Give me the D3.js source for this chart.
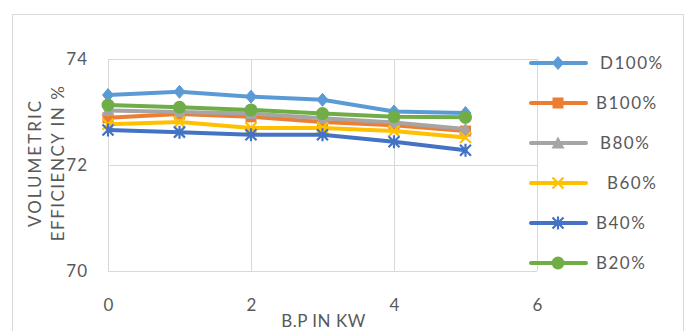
<!DOCTYPE html>
<html>
<head>
<meta charset="utf-8">
<script src="https://cdn.jsdelivr.net/npm/d3@7"></script>
<style>
  html, body { margin: 0; padding: 0; background: #fff; }
  svg { display: block; font-family: Carlito, Lato, "Open Sans", sans-serif; }
</style>
</head>
<body>
<svg id="chart" width="692" height="331"></svg>
<script>
// Brake power (kW) on the x axis
const bp = [0, 1, 2, 3, 4, 5];

// Volumetric efficiency (%) per fuel blend
const seriesNames = ["D100%", "B100%", "B80%", "B60%", "B40%", "B20%"];
const d100 = [73.32, 73.38, 73.29, 73.23, 73.01, 72.98];
const b100 = [72.89, 72.96, 72.91, 72.81, 72.75, 72.64];
const b80  = [73.03, 73.00, 72.97, 72.88, 72.80, 72.68];
const b60  = [72.77, 72.81, 72.70, 72.70, 72.64, 72.52];
const b40  = [72.66, 72.62, 72.57, 72.57, 72.44, 72.28];
const b20  = [73.13, 73.09, 73.04, 72.97, 72.91, 72.90];

const xTicks = [0, 2, 4, 6];
const yTicks = [70, 72, 74];

const colors = ["#5B9BD5", "#ED7D31", "#A5A5A5", "#FFC000", "#4472C4", "#70AD47"];
const markers = ["diamond", "square", "triangle", "cross", "asterisk", "circle"];
const values = [d100, b100, b80, b60, b40, b20];

const FONT = "Lato, 'Open Sans', sans-serif";
const TEXT_COLOR = "#595959";

const svg = d3.select("#chart");

// chart frame
svg.append("rect")
  .attr("x", 12.5).attr("y", 14.5)
  .attr("width", 671).attr("height", 340)
  .attr("fill", "#fff").attr("stroke", "#d9d9d9");

const x = d3.scaleLinear().domain([0, 6]).range([108, 537]);
const y = d3.scaleLinear().domain([70, 74]).range([271, 59]);

// gridlines
const grid = svg.append("g").attr("stroke", "#d9d9d9").attr("stroke-width", 1);
yTicks.forEach(t => {
  grid.append("line")
    .attr("x1", x(0)).attr("x2", x(6))
    .attr("y1", Math.round(y(t)) + 0.5).attr("y2", Math.round(y(t)) + 0.5);
});
xTicks.forEach(t => {
  grid.append("line")
    .attr("x1", Math.round(x(t)) + 0.5).attr("x2", Math.round(x(t)) + 0.5)
    .attr("y1", y(74)).attr("y2", y(70));
});

// axes (labels only, axis lines hidden)
const yAxis = svg.append("g")
  .attr("transform", `translate(${x(0) - 8},0)`)
  .call(d3.axisLeft(y).tickValues(yTicks).tickSize(0).tickPadding(12).tickFormat(d3.format("d")));
yAxis.select(".domain").remove();
yAxis.selectAll("text").attr("fill", TEXT_COLOR)
  .style("font-size", "17px").style("font-family", FONT).style("letter-spacing", "1px")
  .attr("dy", "0.3em");

const xAxis = svg.append("g")
  .attr("transform", `translate(0,${y(70) + 28})`)
  .call(d3.axisBottom(x).tickValues(xTicks).tickSize(0).tickPadding(0).tickFormat(d3.format("d")));
xAxis.select(".domain").remove();
xAxis.selectAll("text").attr("fill", TEXT_COLOR)
  .style("font-size", "17px").style("font-family", FONT);

// axis titles
svg.append("text")
  .attr("x", (x(0) + x(6)) / 2 + 1).attr("y", 327)
  .attr("text-anchor", "middle").attr("fill", TEXT_COLOR)
  .style("font-size", "17px").style("font-family", FONT).style("letter-spacing", "0.5px")
  .text("B.P IN KW");

const yTitle = svg.append("text")
  .attr("transform", `translate(41,${y(72) - 2}) rotate(-90)`)
  .attr("text-anchor", "middle").attr("fill", TEXT_COLOR)
  .style("font-size", "17px").style("font-family", FONT);
yTitle.append("tspan").attr("x", 0).attr("dy", 0)
  .style("letter-spacing", "2px").text("VOLUMETRIC");
yTitle.append("tspan").attr("x", 0).attr("dy", 23)
  .style("letter-spacing", "1.5px").text("EFFICIENCY IN %");

// marker shapes
function drawMarker(g, type, color, cx, cy, s) {
  const h = s / 2;
  switch (type) {
    case "diamond":
      g.append("path").attr("d", `M${cx},${cy - h - 1}L${cx + h},${cy}L${cx},${cy + h + 1}L${cx - h},${cy}Z`)
        .attr("fill", color).attr("stroke", color).attr("stroke-width", 1);
      break;
    case "square":
      g.append("rect").attr("x", cx - h).attr("y", cy - h).attr("width", s).attr("height", s)
        .attr("fill", color);
      break;
    case "triangle":
      g.append("path").attr("d", `M${cx},${cy - h - 1}L${cx + h + 1},${cy + h}L${cx - h - 1},${cy + h}Z`)
        .attr("fill", color);
      break;
    case "cross":
      g.append("path").attr("d", `M${cx - h},${cy - h}L${cx + h},${cy + h}M${cx - h},${cy + h}L${cx + h},${cy - h}`)
        .attr("stroke", color).attr("stroke-width", 2.2).attr("fill", "none");
      break;
    case "asterisk":
      g.append("path").attr("d", `M${cx - h},${cy - h}L${cx + h},${cy + h}M${cx - h},${cy + h}L${cx + h},${cy - h}M${cx},${cy - h - 1}L${cx},${cy + h + 1}`)
        .attr("stroke", color).attr("stroke-width", 2.2).attr("fill", "none");
      break;
    case "circle":
      g.append("circle").attr("cx", cx).attr("cy", cy).attr("r", h + 1).attr("fill", color);
      break;
  }
}

const line = d3.line().x((d, i) => x(bp[i])).y(d => y(d));

values.forEach((vals, si) => {
  const g = svg.append("g");
  g.append("path").datum(vals)
    .attr("d", line).attr("fill", "none")
    .attr("stroke", colors[si]).attr("stroke-width", 4)
    .attr("stroke-linejoin", "round").attr("stroke-linecap", "round");
  vals.forEach((v, i) => drawMarker(g, markers[si], colors[si], x(bp[i]), y(v), 11));
});

// legend
const legendY = [63, 103, 143, 183, 223, 263];
const legendTextX = [600, 596, 600, 607, 596, 596];
seriesNames.forEach((name, si) => {
  const g = svg.append("g");
  g.append("line").attr("x1", 531).attr("x2", 586)
    .attr("y1", legendY[si]).attr("y2", legendY[si])
    .attr("stroke", colors[si]).attr("stroke-width", 4).attr("stroke-linecap", "round");
  drawMarker(g, markers[si], colors[si], 558, legendY[si], 11);
  g.append("text").attr("x", legendTextX[si]).attr("y", legendY[si])
    .attr("dy", "0.36em").attr("fill", TEXT_COLOR)
    .style("font-size", "17px").style("font-family", FONT).style("letter-spacing", "1.5px")
    .text(name);
});
</script>
</body>
</html>
